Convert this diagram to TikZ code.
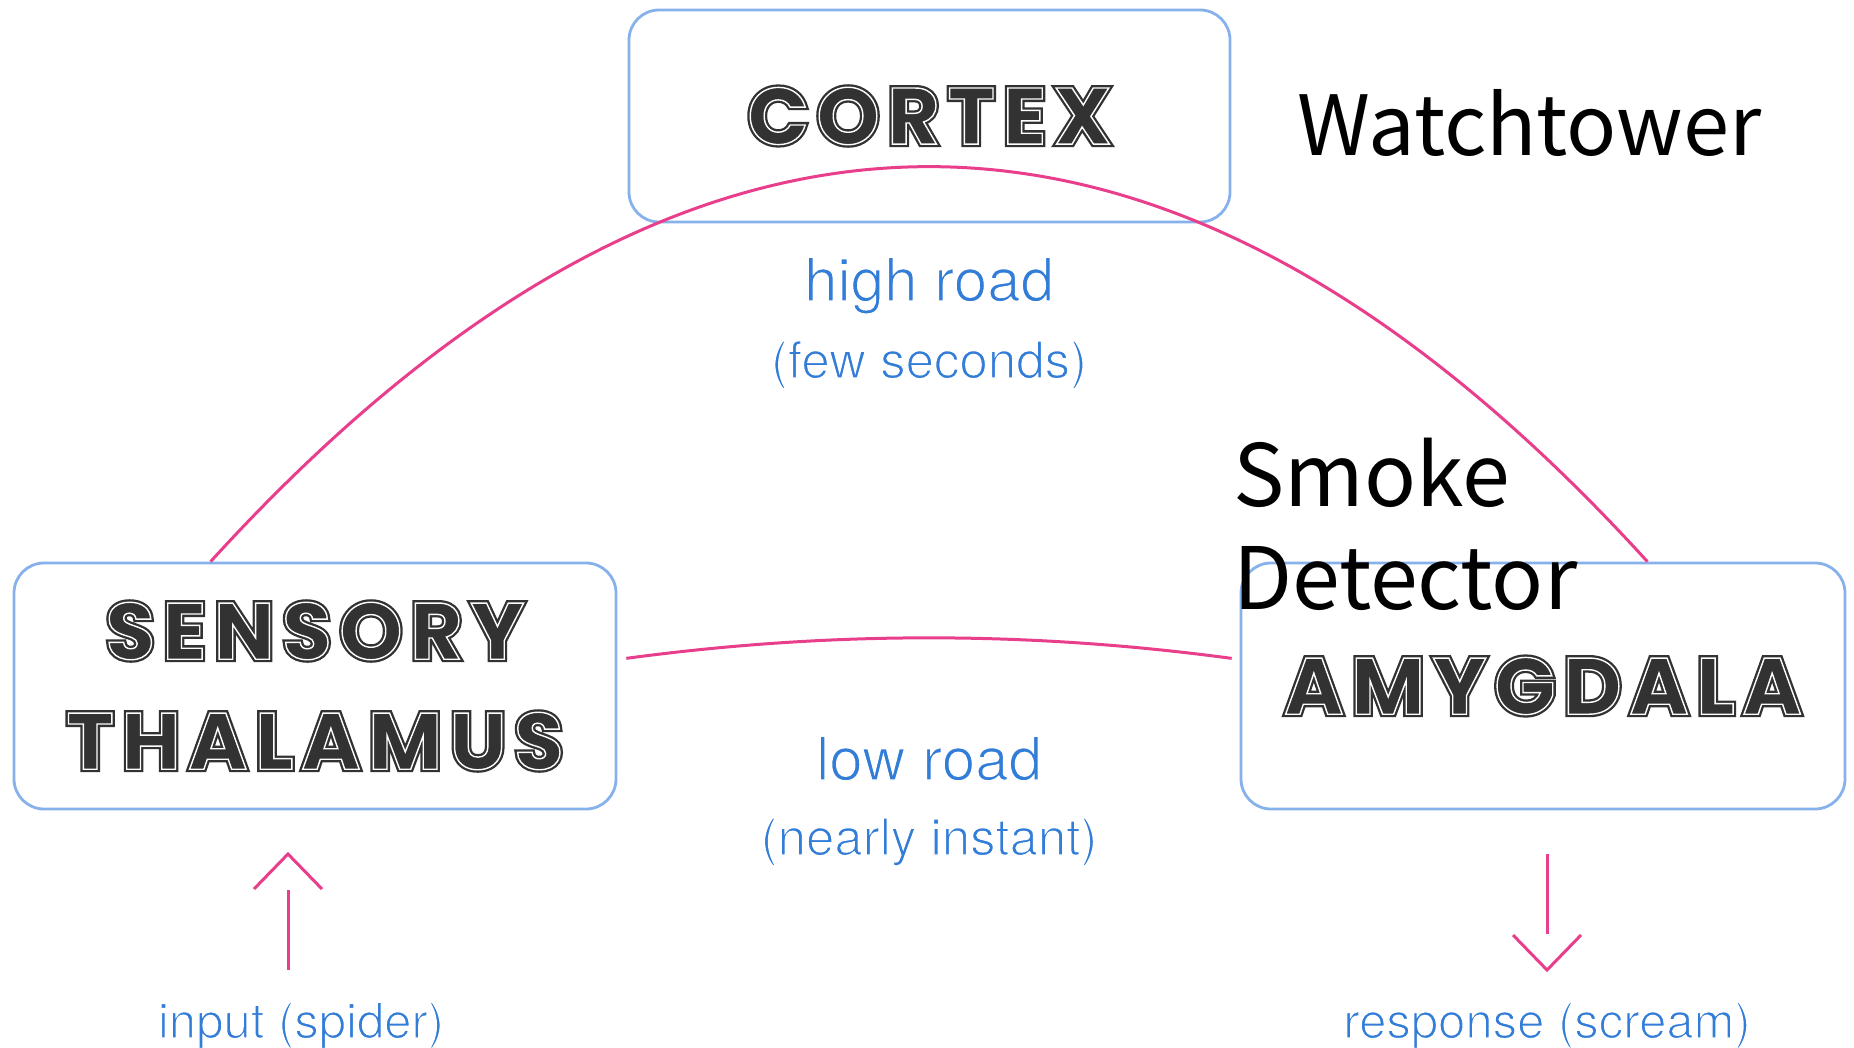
\documentclass[tikz,border=0pt]{standalone}
\usepackage{fontspec}
\setmainfont{TeX Gyre Heros}
\newfontfamily\boxfont[LetterSpace=10]{Poppins}
\newfontfamily\jpfont{Noto Sans CJK JP}
\definecolor{boxblue}{RGB}{135,177,235}
\definecolor{roadpink}{RGB}{232,62,140}
\definecolor{labelblue}{RGB}{50,125,215}
\definecolor{inkgray}{RGB}{50,50,50}
% inline (double-line) lettering: emboldened dark layer + thin white outline on top
\newcommand\inlinetxt[1]{\makebox[0pt][l]{\special{pdf:literal direct 2 Tr 6 w}#1\special{pdf:literal direct 0 Tr 0.4 w}}{\color{white}\special{pdf:literal direct 1 Tr 1.4 w}#1\special{pdf:literal direct 0 Tr 0.4 w}}}
% light lettering: fill, then thin white stroke over the glyph edges
\newcommand\lighttxt[1]{\special{pdf:literal direct 2 Tr 1.4 w 1 1 1 RG}#1\special{pdf:literal direct 0 Tr 0.4 w}}
\tikzset{
  brainbox/.style={draw=boxblue, line width=2.8pt, rounded corners=30pt, inner sep=0pt,
    text=inkgray, align=center, font=\boxfont\bfseries\fontsize{80}{110}\selectfont},
  roadline/.style={draw=roadpink, line width=3pt},
  bluelabel/.style={text=labelblue, inner sep=0pt, anchor=base},
  blacklabel/.style={text=black, inner sep=0pt, anchor=base west, font=\jpfont\fontsize{86}{103}\selectfont}
}
\begin{document}
\begin{tikzpicture}[x=1pt,y=-1pt]
\useasboundingbox (0,0) rectangle (1854,1048);
% boxes
\node[brainbox, minimum width=601pt, minimum height=212pt] (cortex) at (929.5,116) {\inlinetxt{CORTEX}};
\node[brainbox, minimum width=602pt, minimum height=246pt] (thal) at (315,686) {\inlinetxt{SENSORY}\\\inlinetxt{THALAMUS}};
\node[brainbox, minimum width=604pt, minimum height=246pt] (amyg) at (1543,686) {\inlinetxt{AMYGDALA}};
% black labels
\node[blacklabel, font=\jpfont\fontsize{83}{103}\selectfont] (watch) at (1297,156) {Watchtower};
\node[blacklabel] (smoke) at (1233,506) {Smoke};
\node[blacklabel] (detector) at (1233,609) {Detector};
% blue labels
\node[bluelabel, font=\fontsize{60}{70}\selectfont] (high) at (929,301) {\lighttxt{high road}};
\node[bluelabel, font=\fontsize{51}{60}\selectfont] (highsub) at (929,378) {\lighttxt{(few seconds)}};
\node[bluelabel, font=\fontsize{60}{70}\selectfont] (low) at (929,780) {\lighttxt{low road}};
\node[bluelabel, font=\fontsize{51}{60}\selectfont] (lowsub) at (929,855) {\lighttxt{(nearly instant)}};
\node[bluelabel, font=\fontsize{49}{60}\selectfont] (input) at (301,1038) {\lighttxt{input (spider)}};
\node[bluelabel, font=\fontsize{49}{60}\selectfont] (response) at (1547,1038) {\lighttxt{response (scream)}};
% roads
\draw[roadline] (thal.130) .. controls (690,35) and (1168,35) .. (amyg.50);
\draw[roadline, shorten <=9pt, shorten >=8pt] (thal.5) .. controls (830,631) and (1028,631) .. (amyg.175);
% input arrow
\coordinate (inbot) at (288,970);
\coordinate (intip) at (288,854);
\draw[roadline] (inbot) -- ([yshift=-36pt]intip);
\draw[roadline] ([xshift=-34pt,yshift=-35pt]intip) -- (intip) -- ([xshift=34pt,yshift=-35pt]intip);
% response arrow
\coordinate (outtop) at (1547,854);
\coordinate (outtip) at (1547,970);
\draw[roadline] (outtop) -- ([yshift=36pt]outtip);
\draw[roadline] ([xshift=-34pt,yshift=35pt]outtip) -- (outtip) -- ([xshift=34pt,yshift=35pt]outtip);
\end{tikzpicture}
\end{document}
